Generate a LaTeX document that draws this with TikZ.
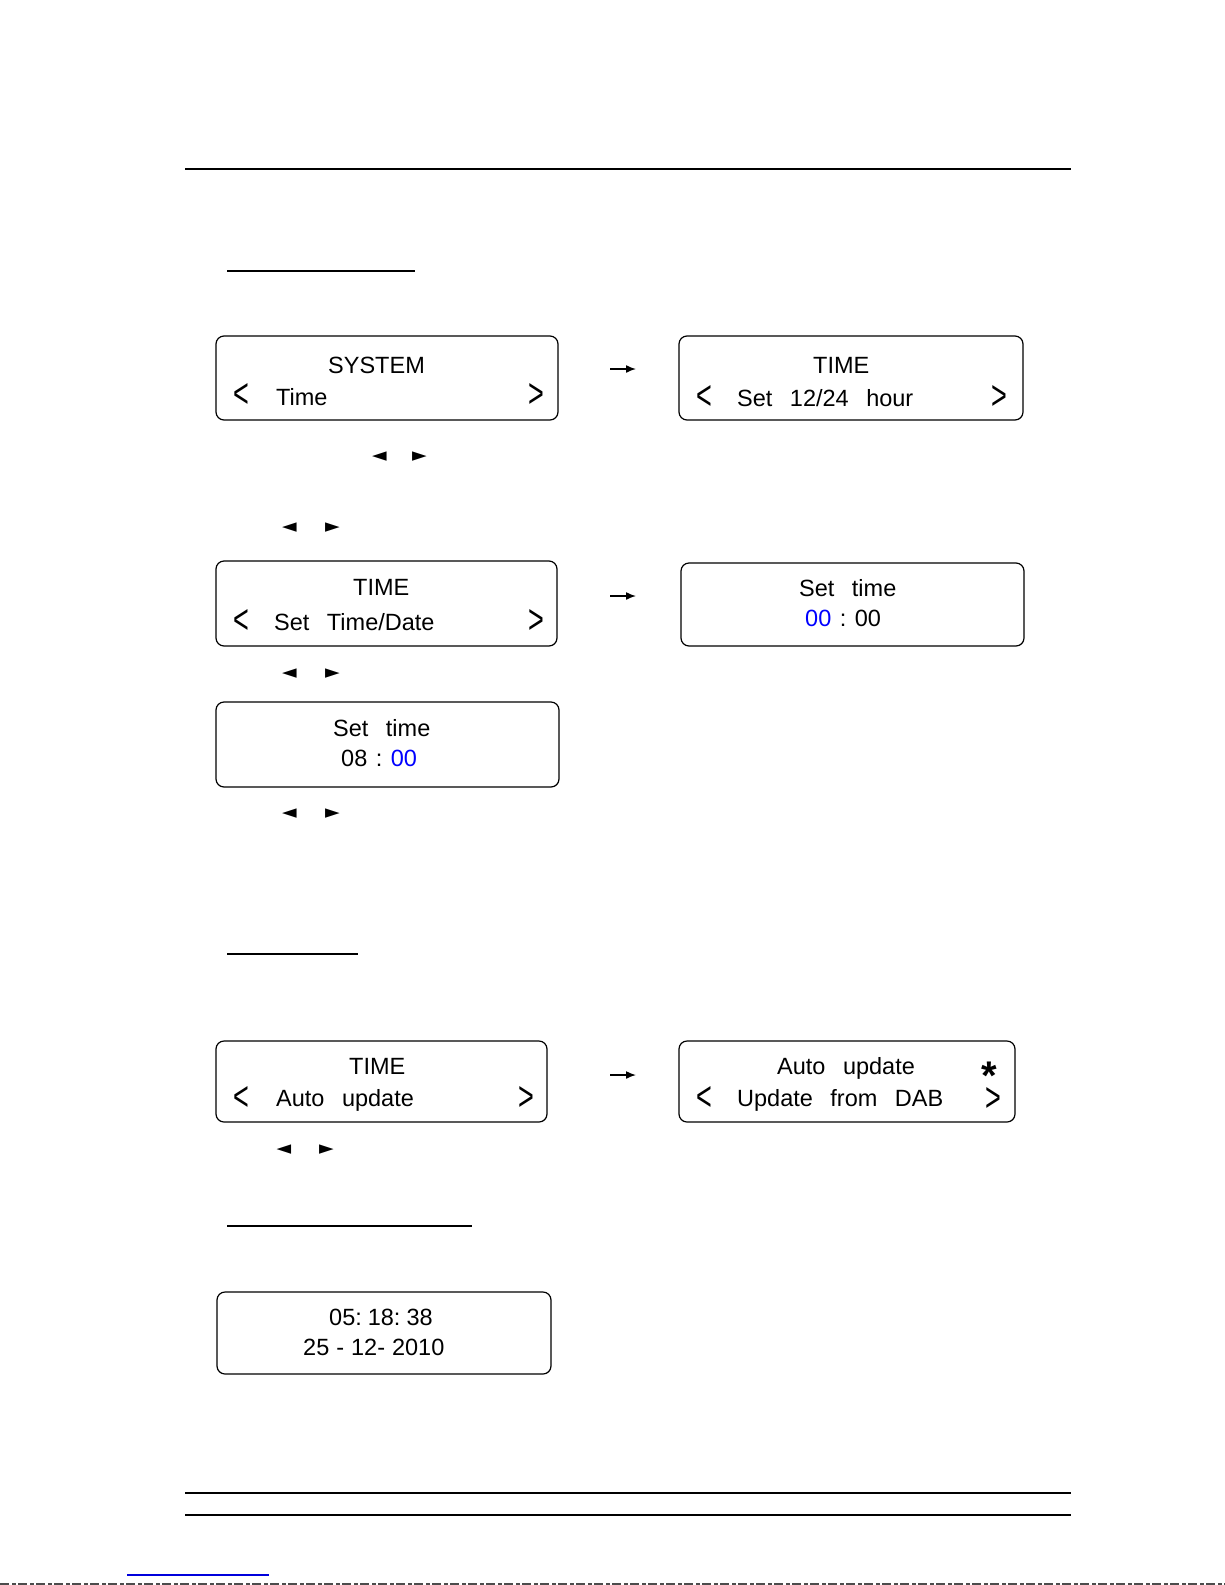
\documentclass[tikz,border=0pt]{standalone}
\usepackage{fontspec}
\usepackage{graphicx}
\setmainfont{Liberation Sans}
\newfontfamily\symfont{DejaVu Sans}
\usetikzlibrary{arrows.meta}
\definecolor{lcdblue}{RGB}{0,0,255}
\definecolor{linkblue}{RGB}{0,0,220}
\newcommand{\wgap}{\hspace{17.5pt}}
\newcommand{\lch}{\scalebox{1.15}[1.75]{<}}
\newcommand{\rch}{\scalebox{1.15}[1.75]{>}}
\newcommand{\ltri}{{\symfont\fontsize{19}{19}\selectfont ◄}}
\newcommand{\rtri}{{\symfont\fontsize{19}{19}\selectfont ►}}
\tikzset{
  lcd/.style={draw=black, line width=1.2pt, rounded corners=8pt, rectangle, inner sep=0pt},
  txt/.style={inner sep=0pt, anchor=base west, font=\fontsize{23.5}{28}\selectfont},
  chev/.style={inner sep=0pt, anchor=center, font=\fontsize{23.5}{28}\selectfont},
  tri/.style={inner sep=0pt, anchor=center},
  rule/.style={line width=2pt, black},
  uline/.style={line width=2.5pt, black},
  nav/.style={line width=1.5pt, -{Latex[length=10pt,width=8pt]}},
}
\begin{document}
\begin{tikzpicture}[x=1pt,y=-1pt]
\useasboundingbox (0,0) rectangle (1225,1585);
% page rules
\coordinate (t1) at (185,169); \coordinate (t2) at (1071,169);
\draw[rule] (t1) -- (t2);
\coordinate (b1) at (185,1493); \coordinate (b2) at (1071,1493);
\draw[rule] (b1) -- (b2);
\coordinate (c1) at (185,1515); \coordinate (c2) at (1071,1515);
\draw[rule] (c1) -- (c2);
\coordinate (l1) at (127,1575); \coordinate (l2) at (269,1575);
\draw[line width=1.5pt, linkblue] (l1) -- (l2);
\coordinate (e1) at (0,1584); \coordinate (e2) at (1225,1584);
\draw[line width=1.5pt, black!70, dash pattern=on 9pt off 3pt on 4pt off 2pt] (e1) -- (e2);
% underlines
\coordinate (u1a) at (227,271); \coordinate (u1b) at (415,271);
\draw[uline] (u1a) -- (u1b);
\coordinate (u2a) at (227,954); \coordinate (u2b) at (358,954);
\draw[uline] (u2a) -- (u2b);
\coordinate (u3a) at (227,1226); \coordinate (u3b) at (472,1226);
\draw[uline] (u3a) -- (u3b);

% boxes
\node[lcd, minimum width=342pt, minimum height=84pt] (box1) at (387,378) {};
\node[lcd, minimum width=344pt, minimum height=84pt] (box2) at (851,378) {};
\node[lcd, minimum width=341pt, minimum height=85pt] (box3) at (386.5,603.5) {};
\node[lcd, minimum width=343pt, minimum height=83pt] (box4) at (852.5,604.5) {};
\node[lcd, minimum width=343pt, minimum height=85pt] (box5) at (387.5,744.5) {};
\node[lcd, minimum width=331pt, minimum height=81pt] (box6) at (381.5,1081.5) {};
\node[lcd, minimum width=336pt, minimum height=81pt] (box7) at (847,1081.5) {};
\node[lcd, minimum width=334pt, minimum height=82pt] (box8) at (384,1333) {};

% box 1
\node[txt] (s1) at (328,373) {SYSTEM};
\node[chev] (s1l) at (241,396) {\lch};
\node[txt] (s1t) at (276,405) {Time};
\node[chev] (s1r) at (536,396) {\rch};
% box 2
\node[txt] (s2) at (813,373) {TIME};
\node[chev] (s2l) at (704,398) {\lch};
\node[txt] (s2t) at (737,406) {Set\wgap 12/24\wgap hour};
\node[chev] (s2r) at (999,398) {\rch};
% box 3
\node[txt] (s3) at (353,595) {TIME};
\node[chev] (s3l) at (241,622) {\lch};
\node[txt] (s3t) at (274,630) {Set\wgap Time/Date};
\node[chev] (s3r) at (536,622) {\rch};
% box 4
\node[txt] (s4) at (799,596) {Set\wgap time};
\node[txt] (s4t) at (805,626) {\textcolor{lcdblue}{00}\hspace{8.5pt}:\hspace{8.5pt}00};
% box 5
\node[txt] (s5) at (333,736) {Set\wgap time};
\node[txt] (s5t) at (341,766) {08\hspace{8.5pt}:\hspace{8.5pt}\textcolor{lcdblue}{00}};
% box 6
\node[txt] (s6) at (349,1074) {TIME};
\node[chev] (s6l) at (241,1098) {\lch};
\node[txt] (s6t) at (276,1106) {Auto\wgap update};
\node[chev] (s6r) at (526,1098) {\rch};
% box 7
\node[txt] (s7) at (777,1074) {Auto\wgap update};
\node[inner sep=0pt, anchor=base, font=\bfseries\fontsize{40}{40}\selectfont] (s7a) at (989,1073) {\raisebox{-0.42em}[0.32em][0pt]{*}};
\node[chev] (s7l) at (704,1098) {\lch};
\node[txt] (s7t) at (737,1106) {Update\wgap from\wgap DAB};
\node[chev] (s7r) at (993,1099) {\rch};
% box 8
\node[txt] (s8) at (329,1325) {05:\hspace{6pt}18:\hspace{6pt}38};
\node[txt] (s8t) at (303,1355) {25\hspace{7pt}-\hspace{7pt}12-\hspace{7pt}2010};

% navigation triangles
\node[tri] (k1l) at (379.5,457) {\ltri};
\node[tri] (k1r) at (419.5,457) {\rtri};
\node[tri] (k2l) at (289.5,527.5) {\ltri};
\node[tri] (k2r) at (332.5,527.5) {\rtri};
\node[tri] (k3l) at (289.5,674) {\ltri};
\node[tri] (k3r) at (332.5,674) {\rtri};
\node[tri] (k4l) at (289.5,813.5) {\ltri};
\node[tri] (k4r) at (332.5,813.5) {\rtri};
\node[tri] (k5l) at (284,1150) {\ltri};
\node[tri] (k5r) at (326.5,1150) {\rtri};

% arrows
\coordinate (a1s) at (610,369); \coordinate (a1e) at (636,369);
\draw[nav] (a1s) -- (a1e);
\coordinate (a2s) at (610,596); \coordinate (a2e) at (636,596);
\draw[nav] (a2s) -- (a2e);
\coordinate (a3s) at (610,1075); \coordinate (a3e) at (636,1075);
\draw[nav] (a3s) -- (a3e);
\end{tikzpicture}
\end{document}
